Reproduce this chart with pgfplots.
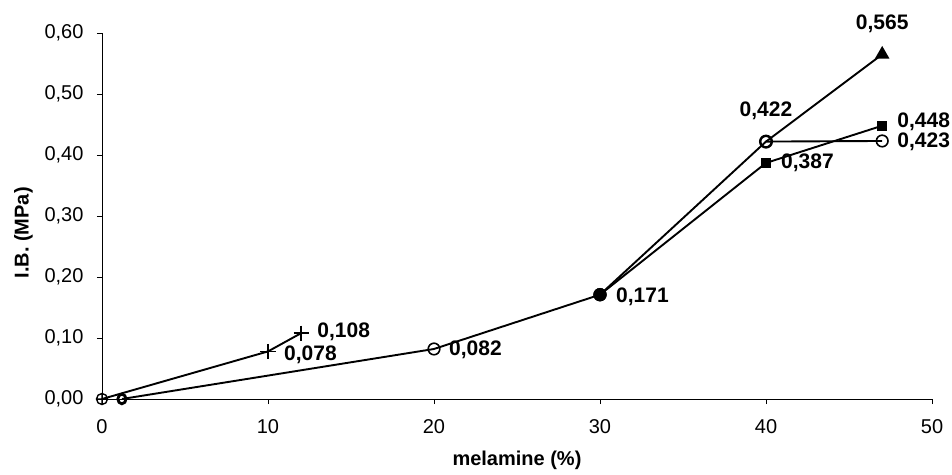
\documentclass[border=0pt]{standalone}
\usepackage{pgfplots}
\pgfplotsset{compat=1.18}
\usepackage{fontspec}
\setmainfont{Liberation Sans}
\begin{document}
\begin{tikzpicture}
\path[use as bounding box] (-102bp,-76bp) rectangle (850bp,399bp);
\begin{axis}[
  at={(0,0)}, anchor=origin,
  scale only axis, width=830bp, height=366bp,
  xmin=0, xmax=50, ymin=0, ymax=0.6,
  axis x line*=bottom, axis y line*=left,
  axis line style={line width=0.9bp},
  xtick={0,10,...,50}, ytick={0,0.1,...,0.6},
  tick align=outside, major tick length=5bp,
  tick style={line width=0.9bp, black},
  minor tick num=0,
  clip=false,
  tick label style={font=\fontsize{20bp}{24bp}\selectfont},
  label style={font=\fontsize{20bp}{24bp}\selectfont\bfseries},
  yticklabel style={xshift=-10bp, /pgf/number format/fixed, /pgf/number format/fixed zerofill, /pgf/number format/precision=2, /pgf/number format/use comma, /pgf/number format/assume math mode=true},
  xticklabel style={yshift=-12bp, /pgf/number format/assume math mode=true},
  xlabel={melamine (\%)},
  ylabel={I.B. (MPa)},
  xlabel style={at={(ticklabel cs:0.5)}, anchor=north, yshift=-10bp},
  ylabel style={at={(ticklabel cs:0.454)}, anchor=south, yshift=5bp},
]
% open circle series
\addplot[black, line width=1.9bp, mark=o, mark size=5.8bp, mark options={line width=1.6bp}, mark indices={2,3,4,5}]
  coordinates {(1.2,0) (20,0.082) (30,0.171) (40,0.422) (47,0.423)};
% square series
\addplot[black, line width=1.9bp, mark=square*, mark size=4.2bp, mark indices={2,3}]
  coordinates {(30,0.171) (40,0.387) (47,0.448)};
% triangle series
\addplot[black, line width=1.9bp, mark=triangle*, mark size=6.5bp, mark indices={2}]
  coordinates {(40,0.422) (47,0.565)};
% plus series
\addplot[black, line width=1.9bp, mark=+, mark size=7.5bp, mark indices={2,3}, mark options={line width=1.6bp}]
  coordinates {(0,0) (10,0.078) (12,0.108)};
\addplot[black, only marks, mark=oplus, mark size=5.5bp, mark options={line width=1.4bp, fill=white}] coordinates {(0,0)};
\addplot[black, only marks, mark=o, mark size=4.8bp, mark options={line width=2.8bp, fill=white, xscale=0.85}] coordinates {(1.2,0)};
% filled circle at 30
\addplot[black, only marks, mark=*, mark size=6.5bp] coordinates {(30,0.171)};
% open circle at 40 thick
\addplot[black, only marks, mark=o, mark size=5.8bp, mark options={line width=2.4bp, fill=white}] coordinates {(40,0.422)};
% labels
\begin{scope}[every node/.style={font=\fontsize{21bp}{24bp}\selectfont\bfseries, inner sep=0pt}]
\node[anchor=west] at (axis cs:10,0.078) [xshift=16bp, yshift=-3bp] {0,078};
\node[anchor=west] at (axis cs:12,0.108) [xshift=16bp, yshift=1bp] {0,108};
\node[anchor=west] at (axis cs:20,0.082) [xshift=15bp, yshift=-1bp] {0,082};
\node[anchor=west] at (axis cs:30,0.171) [xshift=16bp, yshift=-2bp] {0,171};
\node[anchor=center] at (axis cs:40,0.422) [yshift=31bp] {0,422};
\node[anchor=west] at (axis cs:40,0.387) [xshift=15bp] {0,387};
\node[anchor=west] at (axis cs:47,0.448) [xshift=15bp, yshift=4bp] {0,448};
\node[anchor=west] at (axis cs:47,0.423) [xshift=15bp, yshift=-1bp] {0,423};
\node[anchor=center] at (axis cs:47,0.565) [yshift=31bp] {0,565};
\end{scope}
\end{axis}
\end{tikzpicture}
\end{document}
